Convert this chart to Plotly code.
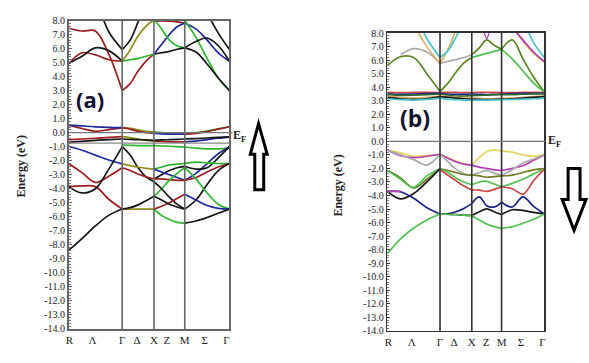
import plotly.graph_objects as go

W, H = 589, 363

# ---------------- data: panel (a) spin-up ----------------
# k-sample positions along R-Λ-Γ-Δ-X-Z-M-Σ-Γ (segment sample points)
KA_L = [0, 13.5, 27, 40.5, 54]
KA_D = [54, 62, 70, 78, 86]
KA_Z = [86, 93.75, 101.5, 109.25, 117]
KA_S = [117, 128.25, 139.5, 150.75, 162]

A_L = [
    [7.45, 7.25, 7.25, 5.6, 3.0],
    [4.9, 5.7, 5.55, 5.2, 5.1],
    [4.95, 5.45, 6.05, 5.85, 5.1],
    [14, 11.5, 9.6, 7.2, 5.93],
    [0.54, 0.3, 0.1, 0.22, 0.36],
    [0.54, 0.48, 0.42, 0.38, 0.36],
    [-0.5, -0.45, -0.4, -0.33, -0.28],
    [-0.68, -0.62, -0.55, -0.5, -0.45],
    [-0.97, -1.25, -1.6, -1.95, -2.23],
    [-2.2, -2.85, -3.55, -3.1, -2.5],
    [-3.85, -3.8, -3.85, -4.75, -5.45],
    [-3.85, -4.3, -4.0, -2.6, -1.0],
    [-8.4, -7.55, -6.65, -5.9, -5.45],
]
A_L_C = ['r', 'r', 'k', 'k', 'r', 'b', 'r', 'k', 'b', 'r', 'r', 'k', 'k']

A_D = [
    [3.0, 3.5, 4.4, 5.1, 5.6],
    [5.1, 5.2, 5.3, 5.45, 5.6],
    [5.1, 5.9, 6.9, 7.6, 8.05],
    [5.93, 6.6, 7.9, 9.5, 11],
    [0.36, 0.3, 0.2, 0.1, 0.05],
    [0.36, 0.25, 0.1, 0.0, -0.05],
    [-0.28, -0.35, -0.45, -0.55, -0.6],
    [-0.45, -0.48, -0.5, -0.52, -0.55],
    [-0.88, -0.9, -0.92, -0.93, -0.93],
    [-1.0, -1.6, -2.5, -3.15, -3.5],
    [-2.23, -2.35, -2.45, -2.55, -2.6],
    [-2.5, -2.7, -2.95, -3.15, -3.3],
    [-5.45, -5.45, -5.45, -5.45, -5.45],
    [-5.45, -5.35, -5.15, -4.85, -4.53],
]
A_D_C = ['r', 'g', 'o', 'k', 'o', 'r', 'o', 'k', 'g', 'k', 'o', 'r', 'o', 'k']

A_Z = [
    [7.95, 7.97, 7.95, 7.9, 7.8],
    [5.6, 6.3, 7.0, 7.55, 7.8],
    [8.05, 7.4, 6.6, 6.2, 6.05],
    [5.6, 5.7, 5.8, 5.95, 6.05],
    [0.05, 0.0, -0.05, -0.08, -0.1],
    [-0.05, -0.08, -0.1, -0.1, -0.1],
    [-0.6, -0.62, -0.65, -0.65, -0.65],
    [-0.55, -0.52, -0.5, -0.48, -0.45],
    [-0.93, -0.95, -0.97, -1.0, -1.02],
    [-2.6, -2.45, -2.3, -2.25, -2.2],
    [-3.3, -3.0, -2.7, -2.5, -2.4],
    [-2.6, -2.8, -3.0, -3.2, -3.4],
    [-3.3, -3.3, -3.35, -3.4, -3.4],
    [-4.53, -4.0, -3.4, -2.9, -2.5],
    [-3.5, -4.0, -4.6, -5.1, -5.45],
    [-5.45, -5.25, -5.0, -4.7, -4.4],
    [-5.45, -5.9, -6.2, -6.4, -6.45],
    [-4.53, -4.8, -5.1, -5.3, -5.45],
]
A_Z_C = ['r', 'b', 'g', 'k', 'g', 'b', 'r', 'k', 'g', 'g', 'k', 'b', 'r', 'g', 'k', 'r', 'g', 'k']

A_S = [
    [7.8, 7.4, 6.6, 5.7, 5.1],
    [8.0, 6.8, 5.3, 3.9, 3.0],
    [6.05, 5.75, 4.9, 3.9, 3.0],
    [6.05, 6.5, 6.75, 6.2, 5.1],
    [14, 11, 8.6, 7.1, 5.93],
    [-0.1, 0.0, 0.12, 0.27, 0.42],
    [-0.1, -0.05, 0.08, 0.25, 0.42],
    [-0.65, -0.6, -0.5, -0.4, -0.32],
    [-0.45, -0.42, -0.38, -0.34, -0.3],
    [-1.02, -1.1, -1.15, -1.15, -1.1],
    [-3.4, -2.9, -2.2, -1.5, -1.0],
    [-2.4, -2.6, -2.5, -1.8, -1.0],
    [-2.2, -2.1, -2.15, -2.2, -2.2],
    [-3.4, -3.2, -2.8, -2.45, -2.2],
    [-5.45, -4.8, -3.7, -2.7, -2.2],
    [-2.5, -3.3, -4.3, -5.1, -5.45],
    [-4.4, -4.8, -5.2, -5.4, -5.45],
    [-6.45, -6.3, -6.05, -5.75, -5.45],
]
A_S_C = ['b', 'g', 'k', 'k', 'k', 'g', 'r', 'b', 'k', 'g', 'b', 'k', 'g', 'r', 'k', 'g', 'b', 'k']

# ---------------- data: panel (b) spin-down ----------------
KB_L = [0, 13.25, 26.5, 39.75, 53]
KB_D = [53, 61, 69, 77, 85]
KB_Z = [85, 92.5, 100, 107.5, 115]
KB_S = [115, 125.75, 136.5, 147.25, 158]

B_L = [
    [5.6, 6.25, 6.2, 5.0, 3.69],
    [None, 6.4, 6.85, 6.6, 5.76],
    [None, 11, 8.7, 7.0, 5.76],
    [None, None, 9.8, 7.6, 6.2],
    [3.62, 3.6, 3.62, 3.63, 3.6],
    [3.52, 3.48, 3.5, 3.52, 3.55],
    [3.45, 3.4, 3.42, 3.45, 3.5],
    [3.32, 3.25, 3.2, 3.25, 3.35],
    [3.25, 3.15, 3.1, 3.15, 3.3],
    [3.15, 3.08, 3.05, 3.1, 3.2],
    [-0.64, -0.85, -1.1, -1.05, -0.95],
    [-0.64, -1.05, -1.2, -1.1, -0.95],
    [-0.64, -1.0, -1.35, -1.75, -0.95],
    [-2.14, -2.7, -3.45, -2.8, -2.02],
    [-2.14, -2.8, -3.4, -2.55, -2.02],
    [-3.7, -4.25, -3.85, -3.0, -2.02],
    [-3.7, -3.72, -4.2, -4.9, -5.36],
    [-3.7, -3.7, None, None, None],
    [-8.3, -7.2, -6.4, -5.8, -5.36],
]
B_L_C = ['og', 'gy', 'tn', 'cy', 'rd', 'nv', 'dg', 'tn', 'k', 'cy',
         'ye', 'mg', 'gy', 'ol', 'lg', 'k', 'nv', 'mg', 'lg']

B_D = [
    [3.69, 4.3, 5.1, 5.8, 6.2],
    [5.76, 5.9, 6.05, 6.2, 6.4],
    [5.76, 6.8, 8.2, 9.8, 11.5],
    [6.2, 6.7, 7.7, 9.0, 10.5],
    [3.6, 3.62, 3.62, 3.6, 3.6],
    [3.55, 3.5, 3.48, 3.48, 3.5],
    [3.5, 3.4, 3.35, 3.35, 3.38],
    [3.35, 3.3, 3.25, 3.22, 3.2],
    [3.3, 3.25, 3.2, 3.15, 3.12],
    [3.2, 3.12, 3.08, 3.05, 3.05],
    [-0.95, -1.2, -1.45, -1.65, -1.75],
    [-0.95, -1.25, -1.5, -1.68, -1.75],
    [-0.95, -1.5, -2.05, -2.4, -2.5],
    [-2.02, -2.15, -2.3, -2.45, -2.5],
    [-2.02, -2.3, -2.7, -3.0, -3.2],
    [-2.1, -2.5, -2.9, -3.3, -3.6],
    [-5.36, -5.35, -5.2, -4.95, -4.6],
    [-5.36, -5.38, -5.4, -5.45, -5.47],
    [-5.36, -5.4, -5.42, -5.45, -5.5],
]
B_D_C = ['og', 'gy', 'tn', 'cy', 'rd', 'nv', 'dg', 'tn', 'k', 'cy',
         'ye', 'mg', 'gy', 'ol', 'lg', 'rd', 'nv', 'k', 'lg']

B_Z = [
    [6.2, 6.35, 6.5, 6.65, 6.8],
    [6.4, 6.9, 7.5, 7.1, 6.8],
    [None, 10.5, 7.6, 10.5, None],
    [3.6, 3.62, 3.63, 3.62, 3.6],
    [3.5, 3.48, 3.45, 3.48, 3.5],
    [3.38, 3.4, 3.42, 3.44, 3.45],
    [3.2, 3.18, 3.15, 3.15, 3.18],
    [3.12, 3.1, 3.08, 3.1, 3.12],
    [3.05, 3.05, 3.05, 3.06, 3.08],
    [-1.75, -1.2, -0.75, -0.65, -0.7],
    [-1.75, -1.9, -2.0, -2.1, -2.15],
    [-2.5, -2.3, -2.15, -2.35, -2.5],
    [-2.5, -2.55, -2.65, -2.6, -2.55],
    [-3.2, -3.0, -2.95, -3.15, -3.35],
    [-3.6, -3.6, -3.7, -3.55, -3.35],
    [-4.6, -4.1, -4.75, -4.85, -4.5],
    [-5.47, -5.2, -4.98, -5.2, -5.4],
    [-5.5, -5.8, -6.1, -6.3, -6.43],
]
B_Z_C = ['lg', 'og', 'mg', 'rd', 'nv', 'dg', 'tn', 'k', 'cy',
         'ye', 'mg', 'gy', 'ol', 'lg', 'rd', 'nv', 'k', 'lg']

B_S = [
    [6.8, 7.5, 6.1, 4.75, 3.65],
    [6.8, 6.1, 5.2, 4.3, 3.65],
    [None, 8.5, 7.4, 6.5, 5.85],
    [None, 8.4, 7.5, 6.6, 5.9],
    [None, None, 9.0, 7.3, 6.2],
    [3.6, 3.6, 3.62, 3.62, 3.6],
    [3.5, 3.52, 3.55, 3.55, 3.55],
    [3.45, 3.45, 3.48, 3.5, 3.5],
    [3.18, 3.2, 3.25, 3.3, 3.35],
    [3.12, 3.15, 3.2, 3.25, 3.3],
    [3.08, 3.1, 3.12, 3.15, 3.2],
    [-0.7, -0.8, -1.0, -1.1, -1.0],
    [-2.15, -2.0, -1.8, -1.4, -1.0],
    [-2.5, -2.1, -1.6, -1.3, -1.0],
    [-2.55, -2.5, -2.3, -2.1, -2.02],
    [-3.35, -3.1, -2.8, -2.4, -2.02],
    [-3.35, -3.5, -3.9, -2.9, -2.05],
    [-4.5, -4.85, -4.1, -4.8, -5.36],
    [-5.4, -5.05, -5.1, -5.25, -5.36],
    [-6.43, -6.3, -6.05, -5.75, -5.36],
]
B_S_C = ['og', 'lg', 'tn', 'mg', 'cy', 'rd', 'nv', 'dg', 'tn', 'k', 'cy',
         'ye', 'mg', 'gy', 'ol', 'lg', 'rd', 'nv', 'k', 'lg']

K_LABELS = ['R', 'Λ', 'Γ', 'Δ', 'X', 'Z', 'M', 'Σ', 'Γ']
KA_TICKS = [1, 24, 54, 69, 86, 99, 117, 137, 159]
KB_TICKS = [1, 24.5, 53, 67, 85, 99.5, 115, 134.5, 156]
KA_SYM = [54, 86, 117]
KB_SYM = [53, 85, 115]
Y_TICKS = list(range(-14, 9))

# ---------------- styling ----------------
COL = {
    'r': '#9a1d22', 'k': '#161616', 'g': '#2fb52f', 'b': '#1f2a9e', 'o': '#8f8d1c',
    'og': '#5d8526', 'gy': '#a9a9a9', 'tn': '#dcb26a', 'cy': '#48c4c8', 'rd': '#c94848',
    'nv': '#1b2282', 'dg': '#2f6a2f', 'ye': '#e2d462', 'mg': '#b43cb4', 'ol': '#6f7a22',
    'lg': '#52c052',
}

fig = go.Figure()


def add_bands(ks, bands, cols, xa, ya):
    for vals, c in zip(bands, cols):
        xs = [k for k, v in zip(ks, vals) if v is not None]
        ys = [v for v in vals if v is not None]
        fig.add_trace(go.Scatter(
            x=xs, y=ys, mode='lines', xaxis=xa, yaxis=ya,
            line=dict(color=COL[c], width=1.7, shape='spline', smoothing=1.0),
            hoverinfo='skip', showlegend=False))


for ks, bands, cols in [(KA_L, A_L, A_L_C), (KA_D, A_D, A_D_C), (KA_Z, A_Z, A_Z_C), (KA_S, A_S, A_S_C)]:
    add_bands(ks, bands, cols, 'x', 'y')
for ks, bands, cols in [(KB_L, B_L, B_L_C), (KB_D, B_D, B_D_C), (KB_Z, B_Z, B_Z_C), (KB_S, B_S, B_S_C)]:
    add_bands(ks, bands, cols, 'x2', 'y2')

SERIF = 'Liberation Serif, Times New Roman, serif'


def xaxis(dom, rng, ticks, lc, anchor):
    return dict(domain=dom, range=rng, tickmode='array', tickvals=ticks, ticktext=K_LABELS,
                showgrid=False, zeroline=False, showline=True, mirror=True, linecolor=lc,
                linewidth=1.6, ticks='', tickfont=dict(family=SERIF, size=11, color='#222'),
                anchor=anchor, fixedrange=True)


def yaxis(dom, lc, anchor):
    return dict(domain=dom, range=[-14, 8], tickmode='array', tickvals=Y_TICKS,
                ticktext=['%.1f' % v for v in Y_TICKS], showgrid=False, zeroline=False,
                showline=True, mirror=True, linecolor=lc, linewidth=1.6, ticks='inside',
                ticklen=3, tickcolor=lc, anchor=anchor,
                minor=dict(ticks='inside', ticklen=2, dtick=0.2, tickcolor='#777'),
                tickfont=dict(family=SERIF, size=10, color='#222'), fixedrange=True)


fig.update_layout(
    width=W, height=H, margin=dict(l=0, r=0, t=0, b=0),
    paper_bgcolor='white', plot_bgcolor='white', showlegend=False,
    xaxis=xaxis([66 / W, 228 / W], [0, 162], KA_TICKS, '#666', 'y'),
    yaxis=yaxis([1 - 334 / H, 1 - 15 / H], '#666', 'x'),
    xaxis2=xaxis([387 / W, 545 / W], [0, 158], KB_TICKS, '#333', 'y2'),
    yaxis2=yaxis([1 - 336 / H, 1 - 28 / H], '#333', 'x2'),
)

shapes = []
for k in KA_SYM:
    shapes.append(dict(type='line', xref='x', yref='y domain', x0=k, x1=k, y0=0, y1=1,
                       line=dict(color='#666', width=1.6)))
for k in KB_SYM:
    shapes.append(dict(type='line', xref='x2', yref='y2 domain', x0=k, x1=k, y0=0, y1=1,
                       line=dict(color='#333', width=1.6)))
# Fermi level lines
shapes.append(dict(type='line', xref='paper', yref='y', x0=66 / W, x1=231 / W, y0=0, y1=0,
                   line=dict(color='#777', width=1.3)))
shapes.append(dict(type='line', xref='paper', yref='y', x0=66 / W, x1=228 / W, y0=-0.75, y1=-0.75,
                   line=dict(color='#888', width=1.2)))
shapes.append(dict(type='line', xref='paper', yref='y2', x0=387 / W, x1=546 / W, y0=0, y1=0,
                   line=dict(color='#777', width=1.3)))


def ppath(pts):
    s = 'M ' + ' L '.join('%.5f,%.5f' % (x / W, 1 - y / H) for x, y in pts) + ' Z'
    return s


up_arrow = [(257.3, 121.7), (266, 153.3), (262.5, 153.3), (262.5, 190), (253.5, 190),
            (253.5, 153.3), (249, 153.3)]
down_arrow = [(575, 232), (587, 200), (581, 200), (581, 168), (569, 168), (569, 200), (563, 200)]
for arr in (up_arrow, down_arrow):
    shapes.append(dict(type='path', xref='paper', yref='paper', path=ppath(arr),
                       fillcolor='white', line=dict(color='black', width=3)))
fig.update_layout(shapes=shapes)

ann = []


def pa(text, x, y, size, family, color='#222', angle=0):
    ann.append(dict(text=text, x=x / W, y=1 - y / H, xref='paper', yref='paper',
                    showarrow=False, xanchor='center', yanchor='middle', textangle=angle,
                    font=dict(size=size, family=family, color=color)))


pa('<b>Energy (eV)</b>', 18, 166, 12, SERIF, angle=-90)
pa('<b>Energy (eV)</b>', 337, 186, 12, SERIF, angle=-90)
pa('<b>E<sub>F</sub></b>', 238, 134, 12, SERIF)
pa('<b>E<sub>F</sub></b>', 555, 140, 12, SERIF)
pa('<b>(a)</b>', 88, 96, 22, 'Open Sans, DejaVu Sans, sans-serif', color='#121230')
pa('<b>(b)</b>', 415, 116, 23, 'Open Sans, DejaVu Sans, sans-serif', color='#121230')
fig.update_layout(annotations=ann)

fig.write_html('out.html', config={'displayModeBar': False, 'staticPlot': True})

# remove the browser's default page margin so the figure sits at the window origin
with open('out.html', encoding='utf-8') as f:
    html = f.read()
html = html.replace('<head>', '<head><style>html,body{margin:0;padding:0;overflow:hidden;}</style>', 1)
with open('out.html', 'w', encoding='utf-8') as f:
    f.write(html)
